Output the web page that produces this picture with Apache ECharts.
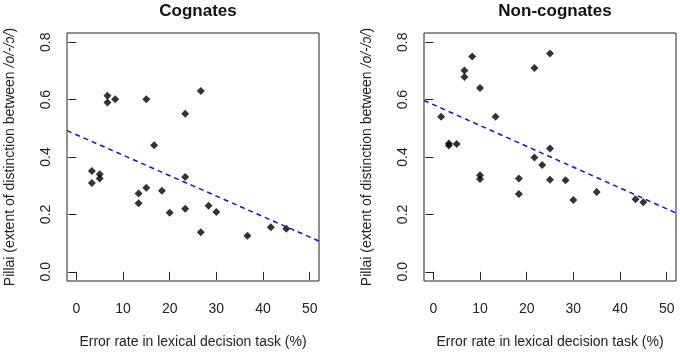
<!DOCTYPE html>
<html>
<head>
<meta charset="utf-8">
<script src="https://cdn.jsdelivr.net/npm/echarts@6/dist/echarts.min.js"></script>
<style>
  html, body { margin: 0; padding: 0; background: #fff; }
  #chart { width: 680px; height: 354px; }
</style>
</head>
<body>
<div id="chart"></div>
<script>
    // error rate (%) and Pillai score per item
    var cogX = [6.67, 6.67, 8.33, 15, 26.67, 23.33, 16.67, 3.33, 5, 5, 3.33, 13.33, 13.33, 15, 18.33, 23.33, 20, 23.33, 28.33, 30, 26.67, 36.67, 41.67, 45];
    var cogY = [0.613, 0.590, 0.601, 0.601, 0.630, 0.551, 0.441, 0.351, 0.340, 0.325, 0.309, 0.273, 0.239, 0.293, 0.282, 0.330, 0.206, 0.220, 0.230, 0.208, 0.138, 0.126, 0.155, 0.150];
    var nonX = [1.67, 3.33, 3.33, 5, 6.67, 6.67, 8.33, 10, 10, 10, 13.33, 18.33, 18.33, 21.67, 25, 21.67, 23.33, 25, 25, 28.33, 30, 35, 43.33, 45];
    var nonY = [0.540, 0.447, 0.440, 0.445, 0.701, 0.679, 0.750, 0.640, 0.336, 0.323, 0.540, 0.325, 0.271, 0.710, 0.761, 0.398, 0.372, 0.430, 0.321, 0.319, 0.250, 0.278, 0.253, 0.242];

    // fitted lines, read at the plot edges
    var cogFit = [[-2, 0.492], [52, 0.107]];
    var nonFit = [[-2, 0.597], [52, 0.205]];

    var xTicks = [0, 10, 20, 30, 40, 50];
    var yTicks = [0, 0.2, 0.4, 0.6, 0.8];
    var titles = ["Cognates", "Non-cognates"];
    var xName = "Error rate in lexical decision task (%)";

    function zip(xs, ys) {
        return xs.map(function (x, i) { return [x, ys[i]]; });
    }

    var font = "Liberation Sans, Arial, sans-serif";
    var ink = "#222";

    function xAxis(idx) {
        return {
            gridIndex: idx, type: "value", min: -2, max: 52,
            name: xName, nameLocation: "middle", nameGap: 54,
            nameTextStyle: { color: ink, fontSize: 14, fontFamily: font },
            axisLine: { show: false },
            axisTick: { show: true, length: 8, customValues: xTicks, lineStyle: { color: ink } },
            axisLabel: { customValues: xTicks, margin: 21, color: ink, fontSize: 14, fontFamily: font },
            splitLine: { show: false }
        };
    }

    function yAxis(idx) {
        return {
            gridIndex: idx, type: "value", min: -0.032, max: 0.832,
            name: "{a|Pillai (extent of distinction between }{b|/o/-/ɔ/}{a|)}",
            nameLocation: "middle", nameGap: 50, nameRotate: 90,
            nameTextStyle: {
                color: ink, fontSize: 14, fontFamily: font,
                rich: {
                    a: { color: ink, fontSize: 14, fontFamily: font },
                    b: { color: ink, fontSize: 14, fontFamily: font, fontStyle: "italic" }
                }
            },
            axisLine: { show: false },
            axisTick: { show: true, length: 8, customValues: yTicks, lineStyle: { color: ink } },
            axisLabel: {
                customValues: yTicks, rotate: 90, margin: 14, color: ink, fontSize: 14, fontFamily: font,
                formatter: function (v) { return v.toFixed(1); }
            },
            splitLine: { show: false }
        };
    }

    var myChart = echarts.init(document.getElementById("chart"));

    var option = {
        animation: false,
        backgroundColor: "#fff",
        title: [
            { text: titles[0], left: 193, top: -2, textAlign: "center",
              textStyle: { fontSize: 17, fontWeight: "bold", color: "#111", fontFamily: font } },
            { text: titles[1], left: 550, top: -2, textAlign: "center",
              textStyle: { fontSize: 17, fontWeight: "bold", color: "#111", fontFamily: font } }
        ],
        grid: [
            { left: 67, top: 33, width: 252, height: 251, show: true, borderColor: ink, borderWidth: 1, backgroundColor: "transparent" },
            { left: 424, top: 33, width: 252, height: 251, show: true, borderColor: ink, borderWidth: 1, backgroundColor: "transparent" }
        ],
        xAxis: [xAxis(0), xAxis(1)],
        yAxis: [yAxis(0), yAxis(1)],
        series: [
            { type: "scatter", xAxisIndex: 0, yAxisIndex: 0, data: zip(cogX, cogY),
              symbol: "diamond", symbolSize: 8, itemStyle: { color: "#000" } },
            { type: "line", xAxisIndex: 0, yAxisIndex: 0, data: cogFit, symbol: "none",
              lineStyle: { color: "#1010e0", width: 1.5, type: [5, 4] } },
            { type: "scatter", xAxisIndex: 1, yAxisIndex: 1, data: zip(nonX, nonY),
              symbol: "diamond", symbolSize: 8, itemStyle: { color: "#000" } },
            { type: "line", xAxisIndex: 1, yAxisIndex: 1, data: nonFit, symbol: "none",
              lineStyle: { color: "#1010e0", width: 1.5, type: [5, 4] } }
        ]
    };

    myChart.setOption(option);
</script>
</body>
</html>
